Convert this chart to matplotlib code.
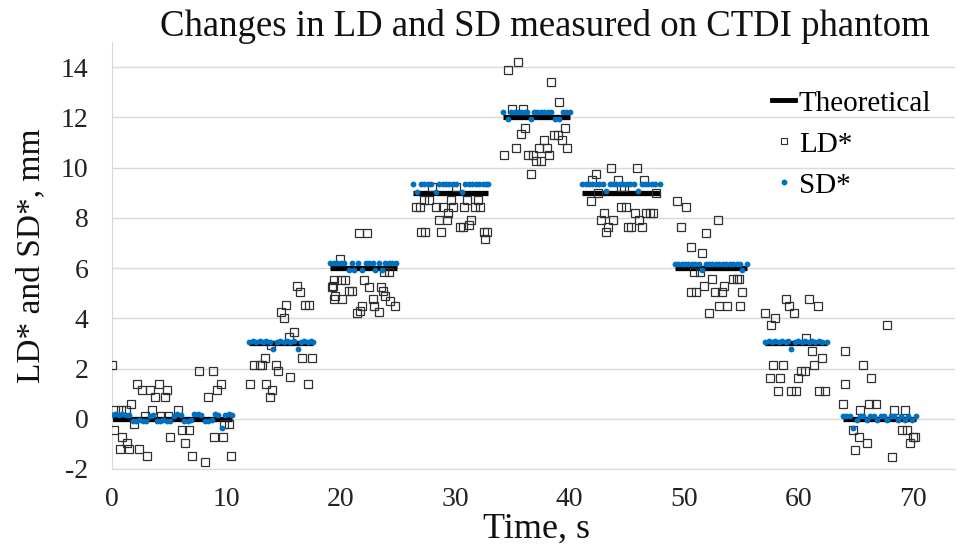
import numpy as np
import matplotlib
matplotlib.use("Agg")
import matplotlib.pyplot as plt
from matplotlib.lines import Line2D

plt.rcParams['font.family'] = ['Liberation Serif', 'DejaVu Serif']
plt.rcParams['axes.unicode_minus'] = False

# Theoretical steps: start time, end time, level
theo_start = [0.0, 12.0, 19.1, 26.3, 34.2, 41.1, 49.2, 57.1, 63.9]
theo_end = [10.5, 17.6, 24.9, 32.9, 40.0, 47.9, 55.5, 62.5, 70.3]
theo_level = [0, 3, 6, 9, 12, 9, 6, 3, 0]

# LD* measurements (time, value)
ld_t = [0.0, 0.2, 0.3, 0.8, 1.2, 0.67, 0.85, 1.35, 1.5, 1.7, 1.9, 2.2, 2.4, 2.6, 2.9, 3.1, 3.3, 3.5,
        3.8, 4.1, 4.3, 4.6, 4.8, 4.9, 5.1, 5.8, 6.15, 6.4, 6.7, 7.0, 7.6, 8.1, 8.4, 8.8, 8.9, 9.2,
        9.5, 9.7, 9.8, 10.2, 10.4,
        12.1, 12.4, 12.9, 13.15, 13.4, 13.45, 13.8, 13.9, 14.0, 14.3, 14.55, 14.8, 15.0, 15.25, 15.5,
        15.6, 15.9, 16.2, 16.4, 16.6, 16.9, 17.1, 17.2, 17.5,
        19.2, 19.3, 19.4, 19.4, 19.5, 19.9, 20.0, 20.1, 20.4, 20.7, 21.0, 21.4, 21.6, 21.7, 21.9, 22.0,
        22.3, 22.5, 22.8, 22.9, 23.3, 23.5, 23.65, 23.8, 23.9, 24.2, 24.3, 24.7,
        26.6, 26.9, 27.0, 27.3, 27.4, 27.7, 28.0, 28.3, 28.6, 28.75, 28.9, 29.3, 29.4, 29.6, 29.8, 30.1,
        30.4, 30.7, 30.8, 31.0, 31.2, 31.4, 31.75, 32.0, 32.2, 32.5, 32.6, 32.8,
        34.3, 34.6, 35.0, 35.3, 35.5, 35.75, 35.9, 36.1, 36.4, 36.6, 36.85, 37.1, 37.3, 37.5, 37.8, 38.0,
        38.2, 38.4, 38.6, 38.95, 39.1, 39.3, 39.6, 39.8,
        41.9, 42.0, 42.3, 42.5, 42.75, 43.0, 43.2, 43.4, 43.6, 43.8, 44.2, 44.5, 44.5, 44.8, 44.9, 45.1,
        45.4, 45.7, 45.9, 46.1, 46.3, 46.5, 46.7, 47.0, 47.3, 47.6,
        49.4, 49.75, 50.2, 50.6, 50.6, 50.9, 51.1, 51.4, 51.6, 51.8, 51.9, 52.2, 52.5, 52.7, 53.0, 53.1,
        53.3, 53.5, 53.8, 54.3, 54.6, 54.8, 54.9, 55.1,
        57.1, 57.5, 57.6, 57.8, 58.0, 58.2, 58.4, 58.7, 58.9, 59.2, 59.4, 59.6, 59.8, 60.0, 60.2, 60.6,
        60.7, 60.9, 61.2, 61.4, 61.7, 61.8, 62.1, 62.3,
        63.9, 64.1, 64.1, 64.8, 65.0, 65.3, 65.4, 65.7, 66.0, 66.2, 66.4, 66.8, 67.8, 68.2, 68.4, 69.1,
        69.3, 69.5, 69.8, 70.0, 70.2]
ld_v = [2.15, -0.45, 0.35, 0.35, 0.35, -1.22, -0.72, -0.98, -1.22, 0.58, -0.19, 1.38, -1.22, 1.14, 0.12,
        -1.49, 1.14, 0.35, 0.88, 1.38, 0.12, 0.88, 1.14, 0.12, -0.72, 0.35, -0.45, -0.98, -0.45, -1.49,
        1.9, -1.74, 0.88, 1.9, -0.72, 1.14, 1.38, -0.72, -0.19, -0.19, -1.49,
        1.38, 2.15, 2.15, 2.15, 2.42, 1.38, 0.88, 2.95, 1.14, 2.15, 1.91, 4.26, 4.01, 4.53, 3.24,
        1.65, 3.47, 5.3, 5.03, 2.42, 4.53, 1.38, 4.53, 2.42,
        5.26, 5.3, 5.52, 4.77, 4.9, 6.36, 5.52, 4.77, 5.52, 5.1, 5.1, 4.2, 7.38, 4.3, 4.5, 5.52,
        7.38, 5.26, 4.77, 4.5, 4.27, 5.26, 5.1, 5.83, 4.9, 5.83, 4.7, 4.5,
        8.45, 8.45, 7.42, 8.71, 7.42, 8.71, 9.24, 8.45, 7.92, 7.42, 8.45, 7.92, 8.18, 8.71, 8.45, 9.24,
        7.65, 7.65, 8.45, 8.71, 7.7, 7.92, 8.45, 8.71, 8.45, 7.42, 7.15, 7.42,
        10.5, 13.9, 12.34, 10.78, 14.2, 11.34, 12.34, 11.58, 10.5, 9.75, 10.5, 10.28, 10.78, 10.28, 11.08,
        10.78, 10.5, 13.4, 11.3, 11.3, 12.6, 11.08, 11.58, 10.78,
        8.68, 9.5, 9.75, 8.98, 7.92, 8.18, 7.42, 7.65, 10.0, 7.92, 9.5, 9.24, 8.45, 9.24, 8.45, 7.65,
        7.65, 8.18, 10.0, 7.92, 7.65, 9.5, 8.18, 8.18, 8.18, 8.98,
        8.68, 7.65, 8.42, 6.85, 5.03, 5.83, 5.03, 5.83, 6.59, 5.3, 7.38, 4.23, 5.56, 5.03, 7.92, 4.5,
        5.03, 5.3, 4.5, 5.56, 5.56, 5.56, 4.5, 5.03,
        4.23, 1.62, 3.74, 2.15, 4.0, 1.12, 1.62, 2.15, 4.77, 4.5, 1.12, 4.23, 1.12, 1.62, 1.91, 1.91,
        3.2, 4.77, 2.68, 2.15, 4.5, 1.12, 2.42, 1.12,
        0.58, 2.68, 1.38, -0.45, -1.25, -0.72, 0.35, 2.15, -0.98, 0.58, 1.62, 0.58, 3.74, -1.51, 0.35,
        -0.45, 0.35, -0.45, -0.98, -0.72, -0.72]

# SD* measurements (time, value)
sd_t = [0.0, 0.3, 0.6, 0.9, 1.2, 1.5, 1.8, 2.1, 2.4, 2.7, 3.0, 3.3, 3.6, 3.9, 4.2, 4.5, 4.8, 5.1, 5.4,
        5.7, 6.0, 6.3, 6.6, 6.9, 7.2, 7.5, 7.8, 8.1, 8.4, 8.7, 9.0, 9.3, 9.6, 9.9, 10.2, 10.5,
        12.0, 12.3, 12.6, 12.9, 13.2, 13.5, 13.8, 14.1, 14.4, 14.7, 15.0, 15.3, 15.6, 15.9, 16.3, 16.5,
        16.8, 17.1, 17.4, 17.6,
        19.1, 19.4, 19.7, 20.0, 20.3, 20.7, 21.0, 21.2, 21.5, 21.9, 22.2, 22.5, 22.8, 23.0, 23.3, 23.6,
        23.9, 24.2, 24.5, 24.8,
        26.3, 26.7, 27.0, 27.3, 27.6, 27.9, 28.3, 28.6, 28.9, 29.2, 29.5, 29.8, 30.1, 30.6, 30.9, 31.2,
        31.5, 31.8, 32.1, 32.4, 32.7, 32.9,
        34.2, 34.6, 34.9, 35.2, 35.5, 35.8, 36.1, 36.3, 36.6, 36.9, 37.2, 37.5, 37.8, 38.1, 38.4, 38.7,
        39.1, 39.4, 39.7, 40.0,
        41.1, 41.4, 41.7, 42.0, 42.3, 42.6, 42.9, 43.2, 43.5, 43.8, 44.1, 44.4, 44.7, 45.0, 45.3, 45.6,
        46.0, 46.3, 46.6, 46.9, 47.2, 47.5, 47.9,
        49.2, 49.5, 49.8, 50.1, 50.4, 50.7, 51.0, 51.3, 51.6, 51.9, 52.2, 52.5, 52.8, 53.1, 53.4, 53.7,
        54.0, 54.3, 54.6, 54.9, 55.1, 55.5,
        57.1, 57.4, 57.7, 58.0, 58.3, 58.6, 58.9, 59.1, 59.4, 59.7, 60.0, 60.3, 60.6, 60.9, 61.2, 61.5,
        61.8, 62.1, 62.5,
        63.9, 64.2, 64.5, 64.8, 65.1, 65.4, 65.7, 66.0, 66.3, 66.6, 66.9, 67.2, 67.5, 67.8, 68.1, 68.4,
        68.7, 69.0, 69.3, 69.6, 69.9, 70.3]
sd_v = [0.15, 0.2, 0.15, 0.2, 0.15, 0.15, -0.08, -0.08, -0.05, -0.08, -0.08, 0.1, 0.15, -0.08, -0.08,
        -0.05, -0.08, -0.08, 0.1, 0.2, 0.15, -0.08, -0.08, -0.05, 0.18, 0.2, 0.15, -0.08, -0.08, -0.05,
        0.18, 0.15, -0.35, 0.15, 0.18, 0.15,
        3.05, 3.08, 3.05, 3.08, 3.05, 3.08, 3.05, 2.78, 3.05, 3.08, 3.05, 3.08, 3.05, 3.08, 2.78, 3.05,
        3.08, 3.05, 3.08, 3.05,
        6.2, 6.22, 6.2, 6.22, 6.2, 5.93, 6.2, 5.93, 6.22, 5.93, 6.2, 6.22, 6.2, 5.93, 6.22, 5.93,
        6.2, 6.22, 6.2, 6.2,
        9.35, 9.02, 9.35, 9.35, 9.35, 9.35, 9.02, 9.35, 9.35, 9.35, 9.35, 9.35, 9.35, 9.02, 9.35, 9.35,
        9.35, 9.35, 9.35, 9.35, 9.35, 9.35,
        12.2, 11.95, 12.2, 12.2, 12.2, 12.2, 12.2, 12.2, 11.95, 12.2, 12.2, 12.2, 12.2, 12.2, 12.2, 11.95,
        11.95, 12.2, 12.2, 12.2,
        9.35, 9.35, 9.35, 9.35, 9.35, 9.35, 9.35, 9.05, 9.35, 9.35, 9.35, 9.35, 9.35, 9.35, 9.35, 9.35,
        9.05, 9.35, 9.35, 9.35, 9.35, 9.35, 9.35,
        6.15, 6.18, 6.15, 6.18, 6.15, 6.18, 6.15, 6.18, 5.93, 6.15, 6.18, 6.15, 6.18, 6.15, 6.18, 6.15,
        6.18, 6.15, 6.18, 6.15, 5.93, 6.15,
        3.05, 3.08, 3.05, 3.08, 3.05, 3.08, 3.05, 3.08, 2.78, 3.05, 3.08, 3.05, 3.08, 3.05, 3.08, 3.05,
        3.08, 3.05, 3.05,
        0.1, 0.12, 0.1, -0.35, -0.05, 0.1, 0.12, -0.05, 0.1, 0.12, -0.05, 0.1, 0.12, -0.05, 0.1, 0.12,
        -0.05, 0.1, -0.05, 0.12, -0.05, 0.1]

y_ticks = [-2, 0, 2, 4, 6, 8, 10, 12, 14]
x_ticks = [0, 10, 20, 30, 40, 50, 60, 70]

fig = plt.figure(figsize=(9.59, 5.52), dpi=100)
ax = fig.add_axes([0.1168, 0.1504, 0.879, 0.7735])

grid_c = '#d9d9d9'
ax.set_axisbelow(True)
ax.yaxis.grid(True, color=grid_c, linewidth=1.0)

# Theoretical step lines
for s, e, lv in zip(theo_start, theo_end, theo_level):
    ax.plot([s, e], [lv, lv], color='black', linewidth=3.8, solid_capstyle='butt', zorder=2)

ax.plot(ld_t, ld_v, linestyle='none', marker='s', markersize=5.2, markerfacecolor='none',
        markeredgecolor='#303030', markeredgewidth=0.9, zorder=3)
ax.plot(sd_t, sd_v, linestyle='none', marker='o', markersize=4.2, color='#0070c0',
        markeredgewidth=0, zorder=4)

ax.set_xlim(0, 73.7)
ax.set_ylim(-2, 15)
ax.set_xticks(x_ticks)
ax.set_yticks(y_ticks)
ax.tick_params(axis='both', length=0, labelsize=20, colors='#222222')
ax.tick_params(axis='y', pad=17)
ax.tick_params(axis='x', pad=13)

for side in ['top', 'right']:
    ax.spines[side].set_visible(False)
ax.spines['left'].set_color(grid_c)
ax.spines['bottom'].set_color(grid_c)

ax.set_title('Changes in LD and SD measured on CTDI phantom', fontsize=26.5, y=1.0, pad=4,
             color='#111111', x=0.514)
ax.set_xlabel('Time, s', fontsize=26, color='#111111')
ax.xaxis.set_label_coords(0.504, -0.102)
ax.set_ylabel('LD* and SD*, mm', fontsize=24, color='#111111')
ax.yaxis.set_label_coords(-0.078, 0.5)

handles = [Line2D([], [], color='black', linewidth=3.5),
           Line2D([], [], linestyle='none', marker='s', markersize=4.2, markerfacecolor='none',
                  markeredgecolor='#303030', markeredgewidth=0.8),
           Line2D([], [], linestyle='none', marker='o', markersize=3.2, color='#0070c0')]
ax.legend(handles, ['Theoretical', 'LD*', 'SD*'], loc='upper left', bbox_to_anchor=(0.783, 0.887),
          frameon=False, fontsize=21, handlelength=0.8, handletextpad=0.12, labelspacing=0.5,
          borderpad=0, borderaxespad=0)

plt.savefig('out.png', dpi=100)
